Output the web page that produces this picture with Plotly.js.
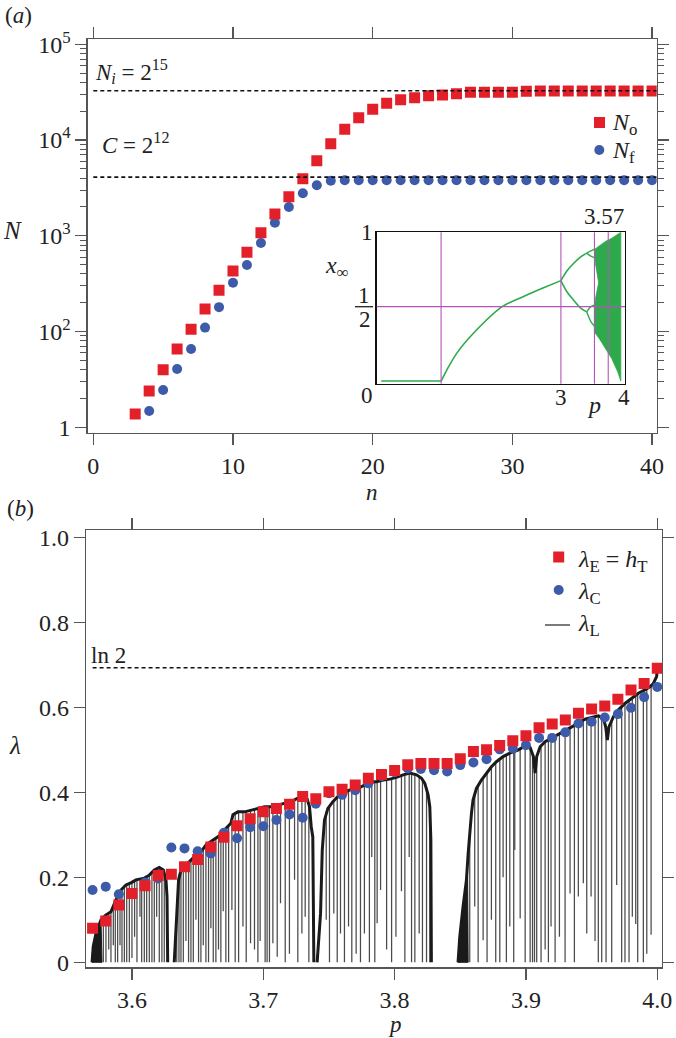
<!DOCTYPE html>
<html><head><meta charset="utf-8">
<script src="https://cdn.plot.ly/plotly-3.0.1.min.js"></script>
<style>html,body{margin:0;padding:0;background:#fff}#g{width:676px;height:1038px}</style>
</head><body><div id="g"></div>
<script>
// ---------- panel (a) data ----------
const nO = [3,4,5,6,7,8,9,10,11,12,13,14,15,16,17,18,19,20,21,22,23,24,25,26,27,28,29,30,31,32,33,34,35,36,37,38,39,40];
const NO = [13.8,23.9,40,65.7,106,172,270,429,673,1076,1690,2560,3945,6080,9160,12940,17100,20940,24200,26370,27680,29040,29560,30500,31540,31540,31540,31540,32300,32500,32500,32500,32500,32500,32500,32500,32500,32500];
const nF = [4,5,6,7,8,9,10,11,12,13,14,15,16,17,18,19,20,21,22,23,24,25,26,27,28,29,30,31,32,33,34,35,36,37,38,39,40];
const NF = [14.8,24.5,40.6,65.8,110,180,324,496,841,1371,2000,2780,3366,3760,3800,3800,3800,3800,3800,3800,3800,3800,3800,3800,3800,3800,3800,3800,3800,3800,3800,3800,3800,3800,3800,3800,3800];
const Ni = 32768, Cval = 4096;
const yTickVals = [10,100,1000,10000,100000];
const yTickText = ['1','10<sup>2</sup>','10<sup>3</sup>','10<sup>4</sup>','10<sup>5</sup>'];

// ---------- inset (bifurcation diagram) data ----------
const flatP = [0.0,1.0];
const flatX = [0,0];
const bifP = [1.0,1.095,1.26,1.54,2.02,2.43,2.7,3.0];
const bifX = [0,0.074,0.186,0.321,0.50,0.578,0.625,0.675];
const p2P = [3.0,3.1,3.21,3.33,3.43];
const p2Up = [0.675,0.74,0.79,0.835,0.86];
const p2Lo = [0.675,0.60,0.545,0.49,0.465];
const p4P = [3.43,3.50,3.56];
const p4UU = [0.86,0.875,0.885];
const p4UL = [0.86,0.84,0.83];
const p4LU = [0.465,0.50,0.51];
const p4LL = [0.465,0.40,0.37];
const chaosP = [3.56,3.65,3.75,3.85,3.95,4.0,4.0,3.95,3.85,3.75,3.65,3.56,3.56,3.63,3.56];
const chaosX = [0.885,0.91,0.94,0.96,0.99,1.0,0.0,0.06,0.15,0.22,0.28,0.33,0.52,0.66,0.83];
const magentaP = [1.0,3.0,3.56,3.79];
const magentaX = 0.5;

// ---------- panel (b) data ----------
const pE = [3.57,3.58,3.59,3.60,3.61,3.62,3.63,3.64,3.65,3.66,3.67,3.68,3.69,3.70,3.71,3.72,3.73,3.74,3.75,3.76,3.77,3.78,3.79,3.80,3.81,3.82,3.83,3.84,3.85,3.86,3.87,3.88,3.89,3.90,3.91,3.92,3.93,3.94,3.95,3.96,3.97,3.98,3.99,4.00];
const lamE = [0.080,0.097,0.135,0.162,0.180,0.204,0.207,0.225,0.242,0.271,0.294,0.321,0.338,0.354,0.362,0.372,0.390,0.385,0.401,0.407,0.417,0.433,0.442,0.451,0.465,0.468,0.468,0.468,0.479,0.496,0.500,0.510,0.521,0.533,0.552,0.561,0.570,0.586,0.596,0.603,0.619,0.641,0.656,0.692];
const lamC = [0.170,0.178,0.160,0.162,0.188,0.197,0.270,0.268,0.261,0.256,0.305,0.292,0.318,0.320,0.335,0.348,0.340,0.373,0.398,0.394,0.405,0.421,0.438,0.447,0.456,0.455,0.452,0.449,0.464,0.470,0.478,0.501,0.503,0.511,0.528,0.528,0.541,0.562,0.566,0.576,0.584,0.599,0.624,0.648];
const lnTwo = 0.693;
// Lyapunov exponent curve: upper envelope (null = gap)
const envP = [3.5696,3.5705,3.5726,3.5764,3.580,3.584,3.5878,3.5916,3.5954,3.5992,3.603,3.6094,3.6132,3.617,3.6208,3.6239,3.6259,3.6267,3.6272,null,
3.6322,3.634,3.6355,3.6373,3.6411,3.6449,3.6487,3.6525,3.6563,3.6601,3.6639,3.6677,3.6715,3.6753,3.6769,3.6807,3.6858,3.6908,3.6959,3.701,3.706,3.7111,3.7162,3.7212,3.7263,3.7301,3.7334,3.7352,3.7365,3.7377,3.7385,null,
3.741,3.7436,3.7449,3.7466,3.7492,3.753,3.7568,3.7606,3.7644,3.7695,3.7745,3.7796,3.7834,3.7862,3.7913,3.7963,3.8014,3.8065,3.8116,3.8167,3.8205,3.823,3.8255,3.8268,3.8276,3.828,null,
3.8483,3.8496,3.8521,3.8547,3.856,3.8572,3.8585,3.8597,3.8623,3.8661,3.8699,3.8737,3.8775,3.8826,3.8877,3.8943,3.8993,3.9031,3.9057,3.907,3.9082,3.9108,3.9146,3.9196,3.9247,3.9298,3.9349,3.94,3.945,3.9501,3.9552,3.959,3.9607,3.962,3.9632,3.9666,3.9704,3.9754,3.9805,3.9856,3.9906,3.9944,3.997,3.9995,4.0];
const envL = [0,0.037,0.068,0.10,0.111,0.119,0.147,0.170,0.182,0.187,0.194,0.198,0.205,0.217,0.223,0.217,0.194,0.154,0,null,
0,0.123,0.194,0.217,0.229,0.241,0.252,0.26,0.276,0.284,0.292,0.30,0.315,0.327,0.347,0.354,0.354,0.358,0.362,0.366,0.366,0.370,0.374,0.378,0.386,0.39,0.384,0.366,0.319,0.295,0,null,
0,0.115,0.264,0.335,0.362,0.378,0.39,0.398,0.404,0.409,0.413,0.421,0.425,0.425,0.429,0.431,0.435,0.441,0.445,0.441,0.433,0.421,0.394,0.366,0.288,0,null,
0,0.06,0.131,0.194,0.256,0.311,0.35,0.382,0.409,0.429,0.445,0.46,0.472,0.484,0.492,0.50,0.509,0.506,0.484,0.445,0.484,0.507,0.519,0.527,0.535,0.545,0.554,0.564,0.572,0.576,0.58,0.574,0.554,0.523,0.554,0.578,0.594,0.609,0.621,0.633,0.641,0.648,0.656,0.672,0.69];
// periodic-window dips: position, top and bottom of each spike
const dipP = [3.5782,3.5802,3.5823,3.5840,3.5858,3.5873,3.5891,3.5909,3.5924,3.5942,3.5960,3.5980,3.6000,3.6020,3.6038,3.6061,3.6074,3.6094,3.6112,3.6132,3.6152,3.6170,3.6188,3.6208,3.6228,3.6246,
3.6341,3.6358,3.6373,3.6391,3.6411,3.6431,3.6449,3.6467,3.6487,3.6507,3.6525,3.6543,3.6563,3.6583,3.6601,3.6619,3.6639,3.6659,3.6677,3.6695,3.6715,3.6736,
3.6761,3.6786,3.6812,3.6845,3.6870,3.6903,3.6933,3.6959,3.6976,3.7014,3.7029,3.7047,3.7073,3.7106,3.7131,3.7167,3.7199,3.7238,3.7263,3.7294,3.7319,3.7347,
3.7479,3.7504,3.7537,3.7563,3.7588,3.7618,3.7649,3.7674,3.7707,3.7740,3.7770,3.7808,3.7826,3.7849,3.7867,3.7893,3.7939,3.7977,3.8010,3.8052,3.8078,3.8111,3.8129,3.8154,3.8187,3.8212,3.8243,3.8268,
3.8572,3.8610,3.8636,3.8674,3.8704,3.8737,3.8770,3.8801,3.8826,3.8851,3.8877,3.8907,3.8915,3.8956,3.8994,3.9032,3.9050,3.9065,3.9082,3.9115,3.9146,3.9171,3.9191,3.9222,3.9255,3.9298,3.9336,3.9369,3.9399,3.9437,3.9463,3.9496,3.9526,3.9551,3.9577,3.9610,3.9653,3.9691,3.9729,3.9754,3.9785,3.9810,3.9836,3.9851,3.9894,3.9920,3.9953];
const dipTop = [0.108,0.111,0.115,0.119,0.13,0.14,0.152,0.165,0.17,0.176,0.182,0.185,0.188,0.19,0.194,0.196,0.197,0.198,0.2,0.205,0.21,0.217,0.22,0.223,0.22,0.212,
0.15,0.2,0.217,0.222,0.229,0.235,0.241,0.246,0.252,0.256,0.26,0.268,0.276,0.28,0.284,0.288,0.292,0.296,0.30,0.307,0.315,0.322,
0.34,0.35,0.354,0.354,0.355,0.358,0.36,0.362,0.363,0.366,0.366,0.366,0.367,0.37,0.372,0.374,0.377,0.382,0.386,0.389,0.388,0.37,
0.355,0.368,0.38,0.388,0.394,0.4,0.404,0.407,0.41,0.413,0.418,0.422,0.424,0.425,0.426,0.428,0.43,0.432,0.435,0.44,0.442,0.445,0.445,0.443,0.438,0.43,0.41,0.366,
0.311,0.40,0.415,0.432,0.447,0.46,0.47,0.478,0.484,0.488,0.492,0.495,0.496,0.502,0.509,0.506,0.49,0.45,0.484,0.508,0.519,0.523,0.526,0.53,0.536,0.545,0.552,0.558,0.564,0.57,0.573,0.576,0.578,0.58,0.578,0.55,0.575,0.59,0.602,0.609,0.616,0.622,0.628,0.632,0.64,0.643,0.65];
const dipBot = [0,0,0.03,0,0.04,0,0,0.04,0,0,0,0,0.01,0.06,0,0.107,0,0,0,0,0,0,0.107,0,0,0,
0,0,0,0,0.05,0,0,0,0.1,0,0,0.04,0,0,0.08,0,0,0.03,0,0.12,0,0,
0.123,0,0,0.084,0,0.045,0.03,0,0.05,0,0,0,0.045,0.013,0.139,0,0.02,0.194,0,0.068,0.107,0,
0.10,0,0.115,0,0.068,0,0.084,0,0.02,0,0.068,0,0.248,0,0.092,0.17,0.03,0,0.06,0.167,0,0.248,0,0,0.068,0,0,0,
0,0.131,0,0.052,0,0.10,0,0,0.20,0,0.084,0,0.264,0.103,0,0,0,0,0,0,0.03,0,0.084,0,0.06,0,0.162,0,0.155,0.186,0.068,0.155,0.05,0,0,0,0,0.182,0,0,0,0.107,0.09,0,0,0.02,0.065];
// solid black wedges
const wedge1P = [3.5696,3.5705,3.5726,3.5764,3.5772,3.5696];
const wedge1L = [0,0.037,0.068,0.10,0,0];
const wedge2P = [3.8483,3.8496,3.8521,3.8547,3.8556,3.8560,3.8483];
const wedge2L = [0,0.06,0.131,0.194,0.20,0,0];

// ---------- styling ----------
const W = 676, H = 1038;
const F = 'Liberation Serif';
const RED = '#e3202a', BLUE = '#3d5ba9', GREEN = '#2eaa4c', MAG = '#b455b6', AX = '#555';
const px = v => v / W, py = v => 1 - v / H;

const dx = [], dy = [];
for (let i = 0; i < dipP.length; i++) { dx.push(dipP[i], dipP[i], null); dy.push(dipTop[i], dipBot[i], null); }

const minorVals = [];
[10,100,1000,10000].forEach(d => { for (let k = 2; k <= 9; k++) minorVals.push(k * d); });

const G = {type:'scatter', mode:'lines', xaxis:'x3', yaxis:'y3'};
const traces = [
  // panel a
  {x: nF, y: NF, type:'scatter', mode:'markers', xaxis:'x', yaxis:'y', marker:{symbol:'circle', size:10, color:BLUE}},
  {x: nO, y: NO, type:'scatter', mode:'markers', xaxis:'x', yaxis:'y', marker:{symbol:'square', size:11, color:RED}},
  {x: [0, 40.33], y: [Ni, Ni], type:'scatter', mode:'lines', xaxis:'x', yaxis:'y', line:{color:'#111', width:1.6, dash:'4px,3px'}},
  {x: [0, 40.33], y: [Cval, Cval], type:'scatter', mode:'lines', xaxis:'x', yaxis:'y', line:{color:'#111', width:1.6, dash:'4px,3px'}},
  // inset
  Object.assign({x: chaosP, y: chaosX, fill:'toself', fillcolor:GREEN, line:{color:GREEN, width:0.8}}, G),
  Object.assign({x: flatP, y: flatX, line:{color:GREEN, width:1.6}}, G),
  Object.assign({x: bifP, y: bifX, line:{color:GREEN, width:1.6, shape:'spline', smoothing:0.8}}, G),
  Object.assign({x: p2P, y: p2Up, line:{color:GREEN, width:1.6, shape:'spline'}}, G),
  Object.assign({x: p2P, y: p2Lo, line:{color:GREEN, width:1.6, shape:'spline'}}, G),
  Object.assign({x: p4P, y: p4UU, line:{color:GREEN, width:1.4, shape:'spline'}}, G),
  Object.assign({x: p4P, y: p4UL, line:{color:GREEN, width:1.4, shape:'spline'}}, G),
  Object.assign({x: p4P, y: p4LU, line:{color:GREEN, width:1.4, shape:'spline'}}, G),
  Object.assign({x: p4P, y: p4LL, line:{color:GREEN, width:1.4, shape:'spline'}}, G),
  // panel b
  {x: wedge1P, y: wedge1L, type:'scatter', mode:'lines', fill:'toself', fillcolor:'#1a1a1a', xaxis:'x2', yaxis:'y2', line:{color:'#1a1a1a', width:1}},
  {x: wedge2P, y: wedge2L, type:'scatter', mode:'lines', fill:'toself', fillcolor:'#1a1a1a', xaxis:'x2', yaxis:'y2', line:{color:'#1a1a1a', width:1}},
  {x: dx, y: dy, type:'scatter', mode:'lines', xaxis:'x2', yaxis:'y2', line:{color:'#4a4a4a', width:1.25}},
  {x: envP, y: envL, type:'scatter', mode:'lines', connectgaps:false, xaxis:'x2', yaxis:'y2', line:{color:'#1a1a1a', width:3}},
  {x: [3.57, 4.0], y: [lnTwo, lnTwo], type:'scatter', mode:'lines', xaxis:'x2', yaxis:'y2', line:{color:'#111', width:1.6, dash:'4px,3px'}},
  {x: pE, y: lamC, type:'scatter', mode:'markers', xaxis:'x2', yaxis:'y2', marker:{symbol:'circle', size:10, color:BLUE}},
  {x: pE, y: lamE, type:'scatter', mode:'markers', xaxis:'x2', yaxis:'y2', marker:{symbol:'square', size:11, color:RED}}
];

const tf = {family:F, size:24, color:'#222'};
const axBase = {showgrid:false, zeroline:false, showline:true, linecolor:AX, linewidth:1.3,
  ticks:'outside', ticklen:11, tickwidth:1.3, tickcolor:AX, mirror:'ticks', tickfont:tf};

const shapes = [];
magentaP.forEach(v => shapes.push({type:'line', xref:'x3', yref:'y3 domain', x0:v, x1:v, y0:0, y1:1, line:{color:MAG, width:1.1}, layer:'above'}));
shapes.push({type:'line', xref:'x3 domain', yref:'y3', x0:0, x1:1, y0:magentaX, y1:magentaX, line:{color:MAG, width:1.1}, layer:'above'});
shapes.push({type:'line', xref:'paper', yref:'paper', x0:px(355), x1:px(373), y0:py(306.7), y1:py(306.7), line:{color:'#222', width:1.3}});
shapes.push({type:'rect', xref:'paper', yref:'paper', x0:px(594), x1:px(605), y0:py(117), y1:py(128), fillcolor:RED, line:{width:0}});
shapes.push({type:'circle', xref:'paper', yref:'paper', x0:px(594.3), x1:px(604.3), y0:py(145), y1:py(155), fillcolor:BLUE, line:{width:0}});
shapes.push({type:'rect', xref:'paper', yref:'paper', x0:px(553.2), x1:px(564.2), y0:py(551.5), y1:py(562.5), fillcolor:RED, line:{width:0}});
shapes.push({type:'circle', xref:'paper', yref:'paper', x0:px(553.7), x1:px(563.7), y0:py(585), y1:py(595), fillcolor:BLUE, line:{width:0}});
shapes.push({type:'line', xref:'paper', yref:'paper', x0:px(545), x1:px(570), y0:py(625), y1:py(625), line:{color:'#222', width:1.2}});

function A(text, x, y, size, o) {
  return Object.assign({text:text, x:px(x), y:py(y), xref:'paper', yref:'paper', showarrow:false, borderpad:0,
    font:{family:F, size:size, color:'#222'}, xanchor:'center', yanchor:'middle'}, o || {});
}
const annotations = [
  A('(<i>a</i>)', 18, 15, 23),
  A('(<i>b</i>)', 20, 508, 23),
  A('<i>N</i>', 12, 230, 25),
  A('<i>n</i>', 372, 492, 23),
  A('<i>λ</i>', 15, 745, 25),
  A('<i>p</i>', 395, 1024, 23),
  A('<i>N<sub>i</sub></i> = 2<sup>15</sup>', 94, 72, 23, {xanchor:'left'}),
  A('<i>C</i> = 2<sup>12</sup>', 101, 144, 23, {xanchor:'left'}),
  A('ln 2', 90, 655, 23, {xanchor:'left'}),
  A('<i>N</i><sub>o</sub>', 611, 124, 24, {xanchor:'left'}),
  A('<i>N</i><sub>f</sub>', 611, 152, 24, {xanchor:'left'}),
  A('<i>λ</i><sub>E</sub> = <i>h</i><sub>T</sub>', 577, 561, 24, {xanchor:'left'}),
  A('<i>λ</i><sub>C</sub>', 577, 593, 24, {xanchor:'left'}),
  A('<i>λ</i><sub>L</sub>', 577, 625, 24, {xanchor:'left'}),
  // inset labels
  A('1', 367, 232, 23),
  A('1', 364, 296, 23),
  A('2', 364.5, 319, 23),
  A('0', 366.5, 396, 23),
  A('3', 560.5, 397, 23),
  A('4', 623.5, 398, 23),
  A('<i>p</i>', 594, 405, 24),
  A('3.57', 604, 216, 23),
  A('<i>x</i><sub>∞</sub>', 337, 267, 24)
];

const layout = {
  width: W, height: H, margin:{l:0, r:0, t:0, b:0}, paper_bgcolor:'#fff', plot_bgcolor:'#fff', showlegend:false,
  font:{family:F},
  xaxis: Object.assign({}, axBase, {domain:[px(87.7), px(656.7)], anchor:'y', range:[-0.4, 40.33], tickvals:[0,10,20,30,40], ticktext:['0','10','20','30','40']}),
  yaxis: Object.assign({}, axBase, {domain:[py(432.7), py(39.3)], anchor:'x', type:'log', range:[0.944, 5.052], tickvals:yTickVals, ticktext:yTickText,
    minor:{tickvals:minorVals, ticks:'outside', ticklen:6, tickwidth:1, tickcolor:AX}}),
  xaxis2: Object.assign({}, axBase, {domain:[px(86), px(662)], anchor:'y2', range:[3.565, 4.0036], tickvals:[3.6,3.7,3.8,3.9,4.0], ticktext:['3.6','3.7','3.8','3.9','4.0']}),
  yaxis2: Object.assign({}, axBase, {domain:[py(967.3), py(530.3)], anchor:'x2', range:[-0.0118, 1.0165], tickvals:[0,0.2,0.4,0.6,0.8,1.0], ticktext:['0','0.2','0.4','0.6','0.8','1.0']}),
  xaxis3: {domain:[px(376.7), px(625)], anchor:'y3', range:[-0.075, 4.07], showgrid:false, zeroline:false, showticklabels:false, ticks:'', showline:true, linecolor:'#111', linewidth:1.3, mirror:true},
  yaxis3: {domain:[py(383.7), py(232.3)], anchor:'x3', range:[-0.018, 1.0], showgrid:false, zeroline:false, showticklabels:false, ticks:'', showline:true, linecolor:'#111', linewidth:1.3, mirror:true},
  shapes: shapes,
  annotations: annotations
};

Plotly.newPlot('g', traces, layout, {staticPlot:true, displayModeBar:false});
</script>
</body></html>
